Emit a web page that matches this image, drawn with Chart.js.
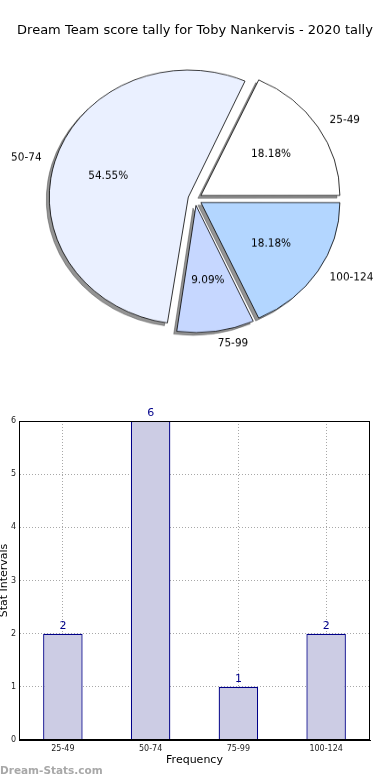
<!DOCTYPE html>
<html>
<head>
<meta charset="utf-8">
<script src="https://cdn.jsdelivr.net/npm/chart.js@4.4.1/dist/chart.umd.min.js"></script>
<style>
  body { margin: 0; width: 390px; height: 780px; background: #fff; overflow: hidden; position: relative; font-family: "DejaVu Sans", sans-serif; }
  #title { position: absolute; top: 20px; left: 0; width: 390px; height: 20px; line-height: 20px; text-align: center; font-size: 13px; color: #000; z-index: 2; }
  #pie { position: absolute; top: 16px; left: 0; transform: scaleY(0.915); transform-origin: 0 0; }
  #bars { position: absolute; top: 390px; left: 0; }
</style>
</head>
<body>
<div id="title">Dream Team score tally for Toby Nankervis - 2020 tally</div>
<canvas id="pie" width="390" height="400"></canvas>
<canvas id="bars" width="390" height="390"></canvas>
<script>
const categories = ['25-49', '50-74', '75-99', '100-124'];
const counts = [2, 6, 1, 2];
const sliceColors = ['#ffffff', '#eaf0ff', '#c6d7ff', '#b3d6ff'];
const yTicks = [0, 1, 2, 3, 4, 5, 6];

const SQUASH = 0.915;   // matplotlib pie is drawn as an ellipse here (same as css scaleY)
const EXPLODE = 7;
const RADIUS = 139;
const FONT = '"DejaVu Sans", sans-serif';

Chart.defaults.font.family = FONT;

// matplotlib goes counter-clockwise from 3 o'clock, chart.js clockwise -> reverse
const pieLabels = categories.slice().reverse();
const pieValues = counts.slice().reverse();
const pieColors = sliceColors.slice().reverse();
const total = counts.reduce((a, b) => a + b, 0);

const pieExtras = {
  id: 'pieExtras',
  afterDatasetsUpdate(chart) {
    // chart.js grows small exploded slices; keep every radius equal
    chart.getDatasetMeta(0).data.forEach(arc => {
      const fix = 1 - Math.sin(Math.min(Math.PI, arc.circumference));
      arc.outerRadius -= EXPLODE * fix;
    });
  },
  beforeDatasetsDraw(chart) {
    // shadow: same wedges, grey, nudged down-left
    const ctx = chart.ctx;
    ctx.save();
    ctx.translate(-3, 3);
    chart.getDatasetMeta(0).data.forEach(arc => {
      const o = arc.options;
      arc.options = Object.assign({}, o, { backgroundColor: 'rgba(60,60,60,0.55)', borderColor: 'rgba(60,60,60,0.55)' });
      arc.draw(ctx);
      arc.options = o;
    });
    ctx.restore();
  },
  afterDraw(chart) {
    const ctx = chart.ctx;
    const arcs = chart.getDatasetMeta(0).data;
    ctx.save();
    ctx.fillStyle = '#000';
    ctx.font = '10.5px ' + FONT;
    ctx.textBaseline = 'middle';
    arcs.forEach((arc, i) => {
      const mid = (arc.startAngle + arc.endAngle) / 2;
      const c = Math.cos(mid), s = Math.sin(mid);
      const put = (text, dist, align) => {
        ctx.save();
        ctx.translate(arc.x + c * dist, arc.y + s * dist);
        ctx.scale(1, 1 / SQUASH);
        ctx.textAlign = align;
        ctx.fillText(text, 0, 0);
        ctx.restore();
      };
      put(pieLabels[i], RADIUS * 1.1 + EXPLODE, c > 0 ? 'left' : 'right');
      put((pieValues[i] / total * 100).toFixed(2) + '%', RADIUS * 0.6 + EXPLODE, 'center');
    });
    ctx.restore();
  }
};

new Chart(document.getElementById('pie'), {
  type: 'pie',
  data: {
    labels: pieLabels,
    datasets: [{
      data: pieValues,
      backgroundColor: pieColors,
      borderColor: '#000',
      borderWidth: 0.8,
      offset: 4 * EXPLODE
    }]
  },
  options: {
    responsive: false,
    animation: false,
    events: [],
    rotation: 90,
    radius: RADIUS,
    layout: { padding: 0 },
    plugins: { legend: { display: false }, tooltip: { enabled: false } }
  },
  plugins: [pieExtras]
});

const barExtras = {
  id: 'barExtras',
  afterDatasetsDraw(chart) {
    const ctx = chart.ctx;
    const a = chart.chartArea;
    ctx.save();
    ctx.strokeStyle = '#000';
    ctx.lineWidth = 1;
    ctx.strokeRect(a.left + 0.5, a.top + 0.5, a.right - a.left - 1, a.bottom - a.top - 1);
    ctx.fillStyle = '#00008b';
    ctx.font = '11px ' + FONT;
    ctx.textAlign = 'center';
    ctx.textBaseline = 'bottom';
    chart.getDatasetMeta(0).data.forEach((bar, i) => {
      ctx.fillText(String(counts[i]), bar.x, bar.y - 2);
    });
    ctx.fillStyle = '#a8a8a8';
    ctx.font = 'bold 10.5px ' + FONT;
    ctx.textAlign = 'left';
    ctx.textBaseline = 'middle';
    ctx.fillText('Dream-Stats.com', 0, 381);
    ctx.restore();
  }
};

new Chart(document.getElementById('bars'), {
  type: 'bar',
  data: {
    labels: categories,
    datasets: [{
      data: counts,
      backgroundColor: '#ccccE4',
      borderColor: '#000088',
      borderWidth: 1.3,
      barPercentage: 0.45,
      categoryPercentage: 1
    }]
  },
  options: {
    responsive: false,
    animation: false,
    events: [],
    layout: { padding: { top: 31, right: 20, bottom: 0, left: 0 } },
    plugins: { legend: { display: false }, tooltip: { enabled: false } },
    scales: {
      x: {
        offset: true,
        grid: { offset: false, color: '#a8a8a8', drawTicks: false },
        border: { color: '#000', dash: [1, 2] },
        ticks: { color: '#222', font: { size: 8 }, padding: 4, maxRotation: 0 },
        title: { display: true, text: 'Frequency', color: '#000', font: { size: 11 }, padding: { top: 0, bottom: 13 } },
        afterFit: s => { s.height = 40; }
      },
      y: {
        min: 0,
        max: 6,
        afterBuildTicks: s => { s.ticks = yTicks.map(v => ({ value: v })); },
        grid: { color: '#a8a8a8', drawTicks: false },
        border: { color: '#000', dash: [1, 2] },
        ticks: { color: '#222', font: { size: 8 }, padding: 3 },
        title: { display: true, text: 'Stat Intervals', color: '#000', font: { size: 11 }, padding: { top: -2, bottom: 0 } },
        afterFit: s => { s.width = 19; }
      }
    }
  },
  plugins: [barExtras]
});
</script>
</body>
</html>
